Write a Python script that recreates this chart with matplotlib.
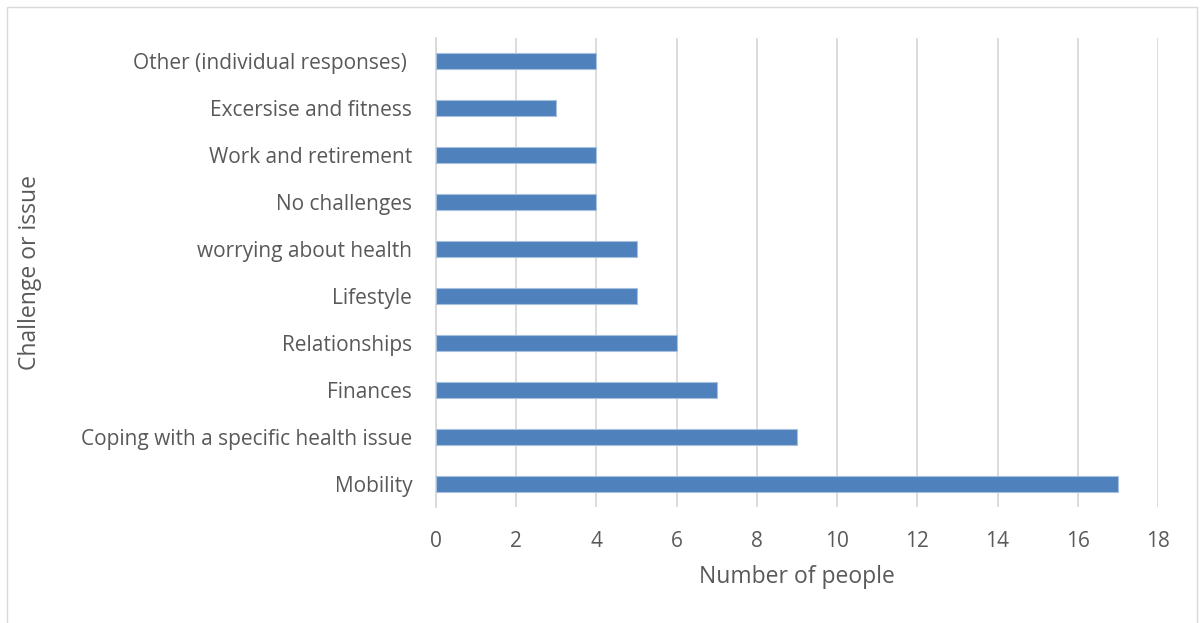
import matplotlib
matplotlib.use("Agg")
import matplotlib.pyplot as plt
from matplotlib.patches import Rectangle

categories = ["Mobility", "Coping with a specific health issue", "Finances", "Relationships",
              "Lifestyle", "worrying about health", "No challenges", "Work and retirement",
              "Excersise and fitness", "Other (individual responses) "]
values = [17, 9, 7, 6, 5, 5, 4, 4, 3, 4]
xticks = [0, 2, 4, 6, 8, 10, 12, 14, 16, 18]

plt.rcParams['font.family'] = ['Open Sans', 'DejaVu Sans']
fig = plt.figure(figsize=(12, 6.23), dpi=100)
ax = fig.add_axes([0.3633, 0.1854, 0.6017, 0.7544])

y = list(range(len(categories)))
ax.barh(y, values, height=0.34, color="#4F81BD", edgecolor="#A7C0DE", linewidth=0.8, zorder=3)
ax.set_ylim(-0.5, len(categories) - 0.5)
ax.set_xlim(0, 18)
ax.set_xticks(xticks)
ax.set_yticks(y)
ax.set_yticklabels(categories)
ax.grid(axis="x", color="#D9D9D9", linewidth=1.3, zorder=0)
for s in ["top", "right", "bottom"]:
    ax.spines[s].set_visible(False)
ax.spines["left"].set_color("#D9D9D9")
ax.spines["left"].set_linewidth(1.3)
ax.tick_params(axis="both", length=0, colors="#595959", labelsize=15)
ax.tick_params(axis="y", pad=17)
ax.tick_params(axis="x", pad=17)
ax.set_xlabel("Number of people", fontsize=16.5, color="#595959", labelpad=9.5)
ax.set_ylabel("Challenge or issue", fontsize=16.5, color="#595959")
ax.yaxis.set_label_coords(42/1200, (623 - 272.5)/623, transform=fig.transFigure)

fig.patches.append(Rectangle((7/1200, -0.01), 1190/1200, 1 - 7/623 + 0.01, transform=fig.transFigure,
                             fill=False, edgecolor="#D9D9D9", linewidth=1.0))
fig.savefig("out.png", dpi=100)
